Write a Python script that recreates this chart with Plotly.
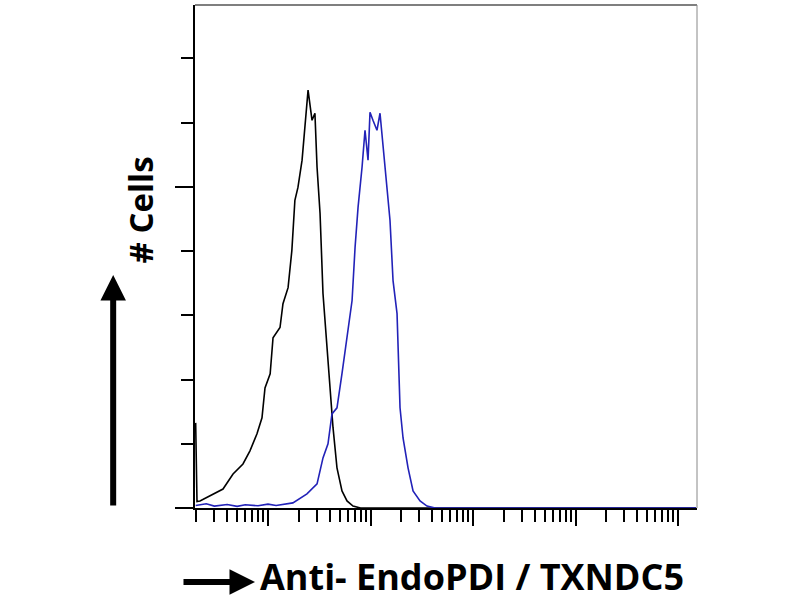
import plotly.graph_objects as go

# Control (isotype) histogram - black
ctrl_x = [1.97, 2.03, 2.17, 2.9, 3.64, 4.56, 5.7, 6.67, 7.81, 8.74, 9.35, 10.5, 11.2, 13.1, 14.0,
          15.7, 17.1, 18.3, 19.6, 21.5, 23.0, 24.6, 26.9, 28.7, 30.1, 32.2, 34.4, 37.7, 40.3,
          43.1, 47.1, 52.7, 59.0, 67.5, 80.0, 150000]
ctrl_y = [26.5, 2.0, 2.2, 4.4, 5.9, 10.6, 13.7, 17.8, 23.1, 28.1, 37.4, 41.8, 53.0, 56.2, 63.6,
          68.6, 80.2, 95.8, 99.8, 108.3, 118.6, 130.1, 120.7, 122.9, 106.1, 91.7, 66.8, 49.9, 37.4,
          25.0, 12.5, 5.3, 2.2, 0.6, 0, 0]

# Antibody-stained histogram - blue
stain_x = [1.97, 2.5, 3.0, 4.0, 5.0, 6.0, 8.0, 10.0, 12.0, 15.0, 17.5, 24.0, 30.1, 34.4, 38.5,
           42.1, 47.1, 52.7, 59.0, 66.1, 70.7, 75.6, 82.7, 88.4, 94.6, 98.9, 105.7, 115.6, 123.8,
           132.4, 144.9, 155.0, 165.9, 181.5, 194.1, 207.7, 232.4, 260.0, 304.2, 355.8, 427.0, 150000]
stain_y = [0.8, 1.3, 0.6, 1.1, 0.5, 1.0, 0.7, 1.2, 0.8, 1.4, 1.6, 4.4, 7.5, 15.6, 20.0,
           29.3, 31.2, 41.8, 53.0, 64.6, 81.1, 93.6, 106.1, 117.6, 108.3, 123.2, 120.7, 117.6, 122.9,
           113.6, 99.8, 89.5, 70.8, 60.5, 31.2, 21.8, 12.5, 5.3, 2.2, 0.6, 0, 0]

major_x = [1, 10, 100, 1000, 10000, 100000]
minor_x = [m * d for d in [1, 10, 100, 1000, 10000, 100000] for m in range(2, 10)]
major_y = [0, 100]
minor_y = [20, 40, 60, 80, 120, 140]

fig = go.Figure()
fig.add_trace(go.Scatter(x=ctrl_x, y=ctrl_y, mode="lines",
                         line=dict(color="black", width=1.6), hoverinfo="skip"))
fig.add_trace(go.Scatter(x=stain_x, y=stain_y, mode="lines",
                         line=dict(color="#2222b8", width=1.6), hoverinfo="skip"))

fig.update_layout(
    width=800, height=600,
    margin=dict(l=195, r=103, t=5, b=92),
    paper_bgcolor="white", plot_bgcolor="white",
    showlegend=False,
    xaxis=dict(type="log", range=[0.288, 5.185], showgrid=False, zeroline=False,
               showline=True, linecolor="black", linewidth=2,
               tickmode="array", tickvals=major_x, ticks="outside", ticklen=16, tickwidth=2,
               tickcolor="black", showticklabels=False,
               minor=dict(tickmode="array", tickvals=minor_x, ticks="outside", ticklen=12,
                          tickwidth=2, tickcolor="black", showgrid=False)),
    yaxis=dict(range=[0, 156.6], showgrid=False, zeroline=False,
               showline=True, linecolor="black", linewidth=2,
               tickmode="array", tickvals=major_y, ticks="outside", ticklen=18, tickwidth=2,
               tickcolor="black", showticklabels=False,
               minor=dict(tickmode="array", tickvals=minor_y, ticks="outside", ticklen=12,
                          tickwidth=2, tickcolor="black", showgrid=False)),
)

# top / right frame
fig.add_shape(type="line", xref="paper", yref="paper", x0=0, x1=1, y0=1, y1=1,
              line=dict(color="#555555", width=1.5))
fig.add_shape(type="line", xref="paper", yref="paper", x0=1, x1=1, y0=0, y1=1,
              line=dict(color="#888888", width=1))

# vertical arrow + "# Cells"
fig.add_annotation(xref="paper", yref="paper", x=-0.163, y=0.463, text="", showarrow=True,
                   ax=0, ay=232, axref="pixel", ayref="pixel", arrowhead=2, arrowsize=0.85,
                   arrowwidth=6, arrowcolor="black")
fig.add_annotation(xref="paper", yref="paper", x=-0.157, y=0.593, text="<b># Cells</b>",
                   showarrow=False, textangle=-90,
                   font=dict(family="Open Sans", size=33, color="black"))

# horizontal arrow + axis title
fig.add_annotation(xref="paper", yref="paper", x=0.1195, y=-0.147, text="", showarrow=True,
                   ax=-73, ay=0, axref="pixel", ayref="pixel", arrowhead=2, arrowsize=0.85,
                   arrowwidth=6, arrowcolor="black")
fig.add_annotation(xref="paper", yref="paper", x=0.1255, y=-0.137, xanchor="left", yanchor="middle",
                   text="<b>Anti- EndoPDI / TXNDC5</b>", showarrow=False,
                   font=dict(family="Open Sans", size=36, color="black"))

fig.write_html("out.html", config={"displayModeBar": False},
               post_script="document.body.style.margin='0px';")
